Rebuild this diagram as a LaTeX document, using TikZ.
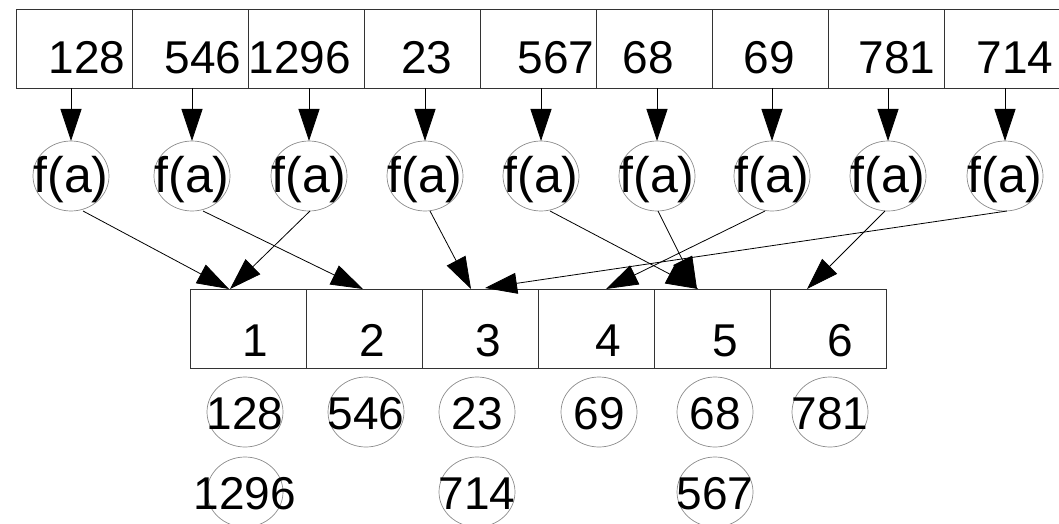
\documentclass[tikz,border=0pt]{standalone}
\usepackage{fontspec}
\setmainfont{Liberation Sans}
\usetikzlibrary{arrows.meta,shapes.geometric}
\begin{document}
\begin{tikzpicture}[x=1pt,y=-1pt,
  cellbox/.style={draw=black!80, line width=0.9pt, minimum width=116pt,
    minimum height=79pt, inner sep=0pt, outer sep=0pt},
  oval/.style={draw=black!45, line width=0.7pt, ellipse, minimum width=76pt,
    minimum height=70pt, inner sep=0pt, outer sep=0pt},
  num/.style={anchor=base, inner sep=0pt, font=\fontsize{46}{52}\selectfont},
  fun/.style={anchor=base, inner sep=0pt, font=\fontsize{50}{56}\selectfont},
  link/.style={draw=black, line width=0.8pt,
    -{Triangle[length=32pt,width=21pt]}}
]
\useasboundingbox (0,0) rectangle (1059,524);

% input array
\foreach \i/\x in {1/74,2/190,3/306,4/422,5/538,6/654,7/770,8/886,9/1002}
  \node[cellbox] (c\i) at (\x,49) {};
\foreach \x/\t in {87/128,203/546,300/1296,427/23,556/567,648/68,769/69,897/781,1015/714}
  \node[num] at (\x,74) {\t};

% hash function applied to each element
\foreach \i/\x in {1/71,2/192,3/309,4/425,5/541,6/657,7/772,8/888,9/1005}{
  \node[oval] (f\i) at (\x,176) {};
  \node[fun] at (\x,192) {f(a)};
  \draw[link] (f\i |- c\i.south) -- (f\i.north);
}

% buckets
\foreach \i/\x in {1/248,2/364,3/480,4/596,5/712,6/828}
  \node[cellbox] (b\i) at (\x,328.5) {};
\foreach \x/\t in {255/1,372/2,488/3,608/4,725/5,840/6}
  \node[num] at (\x,356) {\t};

% mapping of each hashed element to its bucket
\draw[link] ([xshift=12pt]f1.south) -- ([xshift=-19pt]b1.north);
\draw[link] ([xshift=11pt]f2.south) -- ([xshift=-1pt]b2.north);
\draw[link] ([xshift=1pt]f3.south)  -- ([xshift=-18pt]b1.north);
\draw[link] ([xshift=5pt]f4.south)  -- ([xshift=-9pt]b3.north);
\draw[link] ([xshift=9pt]f5.south)  -- ([xshift=-14pt]b5.north);
\draw[link] ([xshift=1pt]f6.south)  -- ([xshift=-15pt]b5.north);
\draw[link] ([xshift=-7pt]f7.south) -- ([xshift=10pt]b4.north);
\draw[link] ([xshift=-3pt]f8.south) -- ([xshift=-21pt]b6.north);
\draw[link] ([xshift=2pt]f9.south)  -- ([xshift=5pt,yshift=1pt]b3.north);

% bucket contents
\foreach \n/\x/\y/\t in {k1/245/412/128,k2/366/412/546,k3/477/412/23,
    k4/599/412/69,k5/715/412/68,k6/830/412/781,
    k7/245/492/1296,k8/477/492/714,k9/715/492/567}{
  \node[oval] (\n) at (\x,\y) {};
  \node[num] at (\x,\y+17) {\t};
}
\end{tikzpicture}
\end{document}
